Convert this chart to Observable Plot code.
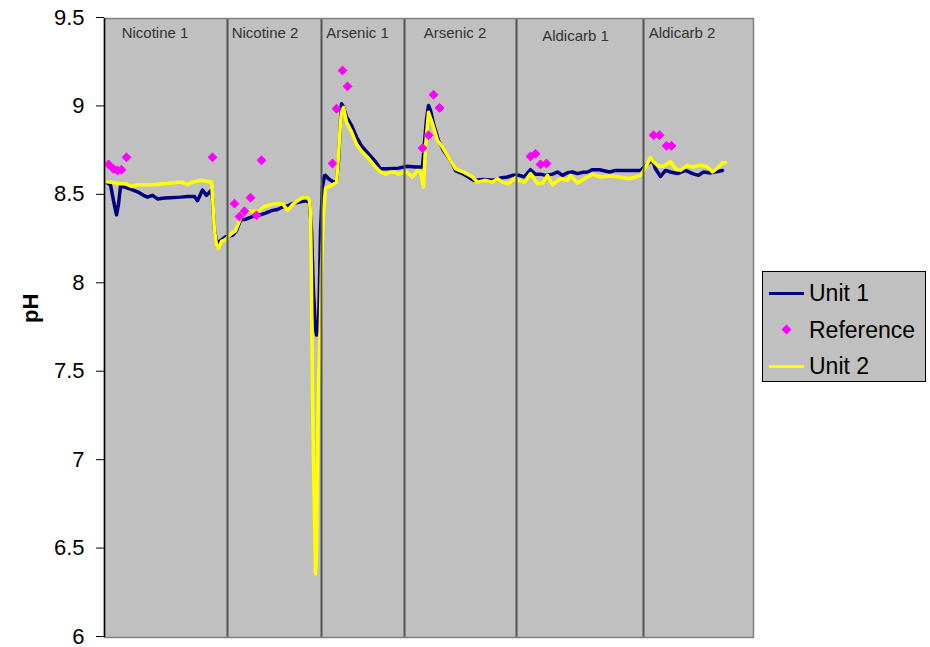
<!DOCTYPE html>
<html>
<head>
<meta charset="utf-8">
<script src="https://cdn.jsdelivr.net/npm/d3@7"></script>
<script src="https://cdn.jsdelivr.net/npm/@observablehq/plot@0.6"></script>
<style>
  body { margin: 0; background: #ffffff; }
  #wrap { position: relative; width: 930px; height: 647px; font-family: "Liberation Sans", Arial, sans-serif; }
  #legend { position: absolute; left: 762px; top: 271px; width: 164px; height: 111px; background: #C0C0C0; border: 1px solid #000; box-sizing: border-box; }
  .lg { position: absolute; left: 0; height: 36px; width: 100%; }
  .lg .sw { position: absolute; left: 6px; width: 35px; top: 50%; height: 3px; margin-top: -1.5px; }
  .lg .dot { position: absolute; left: 20px; top: 50%; width: 7px; height: 7px; margin-top: -3.5px; background: #FF00FF; transform: rotate(45deg); }
  .lg .tx { position: absolute; left: 46px; top: 50%; transform: translateY(-50%); font-size: 23px; color: #000; white-space: nowrap; }
</style>
</head>
<body>
<div id="wrap"><div id="chart"></div>
<div id="legend"></div>
</div>
<script>
// ---- data (time in sample units, pH values) ----
const sectionNames = ["Nicotine 1", "Nicotine 2", "Arsenic 1", "Arsenic 2", "Aldicarb 1", "Aldicarb 2"];
const sectionLabelT = [50.5, 160.5, 253, 350.5, 471, 577.5];
const sectionLabelPH = [9.415, 9.415, 9.415, 9.415, 9.398, 9.415];
const dividerT = [123, 217, 300, 412, 539];

const u1T = [3,6,9,12,14,16,20,26,33,39,43,48,53,60,66,76,83,90,93,98,102,107,108,110,113,115,121,128,132,136,141,146,151,156,161,168,173,178,183,188,193,198,202,205,207,209,211,212,214,215,216,218,220,221,224,229,232,234,236,237,239,242,247,252,257,264,271,276,284,294,302,311,318,320,322,324,326,329,334,339,346,351,359,369,379,389,396,403,408,415,420,426,431,436,441,448,453,458,463,468,473,478,483,488,495,505,511,518,528,536,543,548,551,556,561,566,573,581,588,594,599,606,613,618,621];
const u1PH = [8.57,8.56,8.47,8.39,8.45,8.55,8.547,8.535,8.52,8.50,8.49,8.50,8.48,8.485,8.487,8.49,8.494,8.494,8.47,8.53,8.50,8.53,8.48,8.30,8.21,8.24,8.265,8.274,8.30,8.36,8.365,8.375,8.387,8.39,8.40,8.415,8.42,8.434,8.44,8.453,8.46,8.466,8.47,8.46,8.30,7.95,7.75,7.71,7.76,8.0,8.3,8.55,8.61,8.613,8.594,8.575,8.58,8.70,8.92,9.018,9.0,8.943,8.895,8.83,8.78,8.735,8.69,8.65,8.65,8.654,8.664,8.66,8.66,8.80,8.93,9.008,8.98,8.905,8.81,8.754,8.698,8.64,8.62,8.585,8.59,8.585,8.598,8.604,8.613,8.613,8.604,8.645,8.619,8.62,8.613,8.62,8.632,8.613,8.628,8.632,8.623,8.63,8.632,8.645,8.645,8.632,8.641,8.641,8.641,8.641,8.679,8.698,8.65,8.607,8.641,8.632,8.623,8.641,8.623,8.613,8.632,8.627,8.635,8.641];

const u2T = [3,5,11,16,21,27,33,41,50,58,67,77,83,88,97,102,107,108,110,112,114,117,121,126,131,136,140,144,149,154,159,165,171,178,183,188,193,198,203,205,206,207,208,209,210,211,212,213,214,216,217,219,221,227,232,234,236,237,239,242,247,252,257,264,271,276,281,285,289,294,301,308,313,316,319,321,324,328,333,338,346,351,359,368,373,381,388,393,398,404,411,413,420,426,433,438,443,448,456,463,466,473,480,488,496,505,515,525,536,541,546,549,554,559,566,571,576,583,588,596,603,608,614,618,621];
const u2PH = [8.575,8.575,8.57,8.565,8.565,8.55,8.56,8.56,8.56,8.565,8.57,8.575,8.56,8.575,8.585,8.58,8.575,8.50,8.30,8.22,8.20,8.24,8.25,8.28,8.30,8.37,8.40,8.41,8.41,8.41,8.434,8.445,8.453,8.453,8.415,8.447,8.47,8.487,8.487,8.47,8.40,8.0,7.4,7.0,6.7,6.36,6.5,7.0,7.44,7.8,8.09,8.4,8.54,8.556,8.575,8.726,8.914,8.97,8.997,8.914,8.86,8.79,8.75,8.71,8.66,8.632,8.62,8.63,8.632,8.62,8.636,8.604,8.64,8.632,8.547,8.773,8.97,8.905,8.81,8.773,8.698,8.65,8.632,8.604,8.575,8.585,8.575,8.595,8.575,8.566,8.60,8.585,8.575,8.623,8.566,8.57,8.613,8.56,8.594,8.585,8.613,8.57,8.594,8.619,8.604,8.61,8.604,8.594,8.613,8.66,8.713,8.69,8.664,8.664,8.69,8.65,8.641,8.67,8.66,8.67,8.66,8.632,8.66,8.685,8.685];

const refT = [4,9,13,17,22,108,130,135,140,146,152,157,228,232,238,243,318,324,329,335,426,431,436,442,549,555,562,567];
const refPH = [8.675,8.65,8.64,8.645,8.715,8.715,8.453,8.38,8.41,8.487,8.387,8.698,8.68,8.99,9.206,9.116,8.767,8.84,9.069,8.995,8.72,8.735,8.675,8.68,8.84,8.84,8.78,8.78];

const yTicks = [6, 6.5, 7, 7.5, 8, 8.5, 9, 9.5];

const unit1 = u1T.map((t, i) => ({t, pH: u1PH[i]}));
const unit2 = u2T.map((t, i) => ({t, pH: u2PH[i]}));
const refs = refT.map((t, i) => ({t, pH: refPH[i]}));
const labels = sectionNames.map((name, i) => ({name, t: sectionLabelT[i], pH: sectionLabelPH[i]}));

const chart = Plot.plot({
  width: 930,
  height: 647,
  marginLeft: 104,
  marginRight: 177,
  marginTop: 18,
  marginBottom: 10,
  style: { background: "#ffffff", fontFamily: "'Liberation Sans', Arial, sans-serif", overflow: "visible" },
  x: { domain: [0, 649], axis: null },
  y: { domain: [6, 9.5] },
  marks: [
    Plot.frame({ fill: "#C0C0C0", stroke: null }),
    Plot.axisY({ ticks: yTicks, tickFormat: d => String(d), tickSize: 8, tickPadding: 12, fontSize: 22, dy: -1, label: null, stroke: "#000", fill: "#000" }),
    Plot.line(unit1, { x: "t", y: "pH", stroke: "#000080", strokeWidth: 3.5 }),
    Plot.line(unit2, { x: "t", y: "pH", stroke: "#FFFF00", strokeWidth: 3.5 }),
    Plot.ruleX(dividerT, { stroke: "#555555", strokeWidth: 2 }),
    Plot.dot(refs, { x: "t", y: "pH", symbol: "diamond2", r: 4, fill: "#FF00FF", stroke: "#FF00FF", strokeWidth: 1 }),
    Plot.text(labels, { x: "t", y: "pH", text: "name", fontSize: 15, fill: "#333333" }),
    Plot.frame({ stroke: "#808080", strokeWidth: 1.5 }),
    Plot.ruleX([0], { stroke: "#000", strokeWidth: 1.5 }),
    Plot.text(["pH"], { frameAnchor: "left", dx: -74, dy: -5, rotate: -90, fontSize: 22, fontWeight: "bold", fill: "#000" })
  ]
});
document.getElementById("chart").appendChild(chart);

// legend
const legendItems = [
  { name: "Unit 1", kind: "line", color: "#000080" },
  { name: "Reference", kind: "dot", color: "#FF00FF" },
  { name: "Unit 2", kind: "line", color: "#FFFF00" }
];
const lg = document.getElementById("legend");
legendItems.forEach((it, i) => {
  const row = document.createElement("div");
  row.className = "lg";
  row.style.top = (3 + i * 36.5) + "px";
  const sw = document.createElement("div");
  if (it.kind === "line") { sw.className = "sw"; sw.style.background = it.color; }
  else { sw.className = "dot"; }
  const tx = document.createElement("div");
  tx.className = "tx";
  tx.textContent = it.name;
  row.appendChild(sw); row.appendChild(tx);
  lg.appendChild(row);
});
</script>
</body>
</html>
